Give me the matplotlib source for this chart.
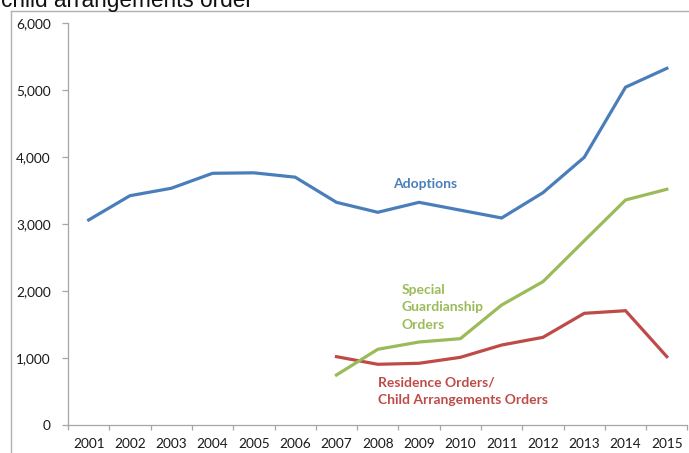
import matplotlib
matplotlib.use("Agg")
import matplotlib.pyplot as plt
from matplotlib.ticker import FuncFormatter, FixedLocator
from matplotlib.lines import Line2D

years = ["2001", "2002", "2003", "2004", "2005", "2006", "2007", "2008",
         "2009", "2010", "2011", "2012", "2013", "2014", "2015"]
adoptions = [3060, 3423, 3534, 3758, 3765, 3700, 3324, 3175, 3324, 3207,
             3090, 3468, 3997, 5045, 5327]
sgo_years = ["2007", "2008", "2009", "2010", "2011", "2012", "2013", "2014", "2015"]
sgo = [743, 1127, 1236, 1286, 1789, 2138, 2750, 3359, 3519]
ro_years = sgo_years
ro = [1017, 903, 918, 1007, 1191, 1306, 1665, 1704, 1017]
y_ticks = [0, 1000, 2000, 3000, 4000, 5000, 6000]
title_text = "child arrangements order"

BLUE = "#4A7EBB"
GREEN = "#9BBB59"
RED = "#BE4B48"
LABEL_FONT = ["Lato", "DejaVu Sans"]

W, H = 689, 453
fig = plt.figure(figsize=(W / 100, H / 100), dpi=100)
fig.patch.set_facecolor("white")

# axes placement in pixels
left_px, right_px, top_px, bottom_px = 68, 687.5, 23.3, 424.7
ax = fig.add_axes([left_px / W, 1 - bottom_px / H,
                   (right_px - left_px) / W, (bottom_px - top_px) / H])

idx = {y: i for i, y in enumerate(years)}
x_all = [idx[y] for y in years]
x_sgo = [idx[y] for y in sgo_years]
x_ro = [idx[y] for y in ro_years]

lw = 2.3
ax.plot(x_all, adoptions, color=BLUE, lw=lw, solid_joinstyle="miter", zorder=3)
ax.plot(x_ro, ro, color=RED, lw=lw, solid_joinstyle="miter", zorder=3)
ax.plot(x_sgo, sgo, color=GREEN, lw=lw, solid_joinstyle="miter", zorder=4)

ax.set_xlim(-0.5, len(years) - 0.5)
ax.set_ylim(0, 6000)

for s in ["top", "right"]:
    ax.spines[s].set_visible(False)
for s in ["left", "bottom"]:
    ax.spines[s].set_color("#A6A6A6")
    ax.spines[s].set_linewidth(0.9)

ax.set_xticks(x_all)
ax.set_xticklabels(years)
ax.xaxis.set_minor_locator(FixedLocator([i - 0.5 for i in range(len(years) + 1)]))
ax.tick_params(axis="x", which="major", length=0, pad=9.5, labelsize=9.8,
               labelcolor="#1a1a1a")
ax.tick_params(axis="x", which="minor", length=3.5, width=0.9, color="#A6A6A6",
               direction="out")
ax.set_yticks(y_ticks)
ax.yaxis.set_major_formatter(FuncFormatter(lambda v, p: f"{int(v):,}"))
ax.tick_params(axis="y", length=4.3, width=0.9, color="#A6A6A6", pad=8,
               labelsize=9.8, labelcolor="#1a1a1a")
for lab in ax.get_xticklabels() + ax.get_yticklabels():
    lab.set_family(LABEL_FONT)

# series labels
ax.text(idx["2009"] + 0.15, 3600, "Adoptions", color=BLUE, fontsize=10,
        fontweight="bold", family=LABEL_FONT, ha="center", va="center")
ax.text(idx["2008"] + 0.58, 2110, "Special\nGuardianship\nOrders", color=GREEN,
        fontsize=10, fontweight="bold", family=LABEL_FONT, ha="left", va="top",
        linespacing=1.55)
ax.text(idx["2007"] + 1.0, 720, "Residence Orders/\nChild Arrangements Orders",
        color=RED, fontsize=10, fontweight="bold", family=LABEL_FONT,
        ha="left", va="top", linespacing=1.5)

# frame of the chart area
fig.add_artist(Line2D([11 / W, 1], [1 - 10.7 / H, 1 - 10.7 / H],
                      transform=fig.transFigure, color="#B0B0B0", lw=1))
fig.add_artist(Line2D([11 / W, 11 / W], [0, 1 - 10.7 / H],
                      transform=fig.transFigure, color="#B0B0B0", lw=1))

# cut-off title text above (partially outside the picture, as in the reference)
fig.text(1 / W, 1 - 7.5 / H, title_text, fontsize=16.3, color="#111111",
         family=["Liberation Sans", "DejaVu Sans"], ha="left", va="baseline")

fig.savefig("out.png", dpi=100, facecolor="white")
